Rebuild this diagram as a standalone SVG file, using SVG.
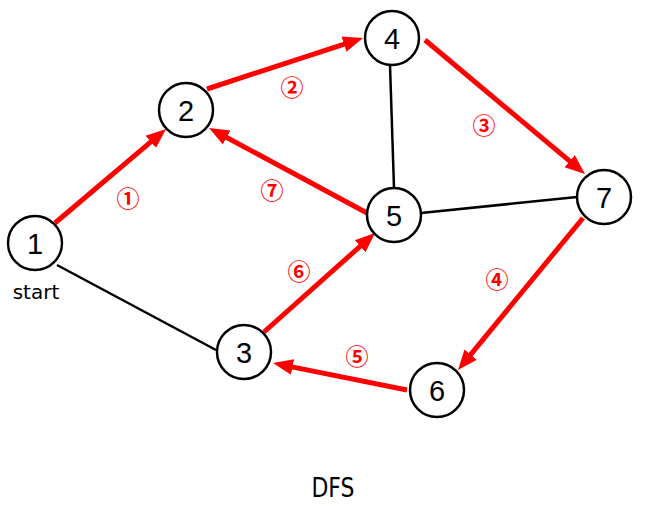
<svg xmlns="http://www.w3.org/2000/svg" width="650" height="509" viewBox="0 0 650 509">
<style>
.node circle{fill:#fff;stroke:#000;stroke-width:2.5}
.node text{font-family:"Liberation Sans",Arial,sans-serif;font-size:29px;text-anchor:middle;fill:#000}
.edge{stroke:#000;stroke-width:2.5;fill:none}
.path{stroke:#ff0000;stroke-width:5;fill:none;marker-end:url(#ah)}
.lbl{font-family:"Noto Sans CJK JP","DejaVu Sans",sans-serif;font-size:23px;font-weight:bold;fill:#ff0000;text-anchor:middle}
.cap{font-family:"DejaVu Sans",sans-serif;text-anchor:middle;fill:#000}
</style>
<defs>
<marker id="ah" markerUnits="userSpaceOnUse" markerWidth="20" markerHeight="18" refX="2" refY="9" orient="auto">
<path d="M0,1 L20,9 L0,17 z" fill="#ff0000"/>
</marker>
</defs>
<rect width="650" height="509" fill="#fff"/>
<g id="connectors">
<line class="edge" x1="57" y1="265" x2="216" y2="350"/>
<line class="edge" x1="390" y1="65" x2="394" y2="188"/>
<line class="edge" x1="421" y1="213" x2="577" y2="197"/>
<line class="path" x1="55" y1="223" x2="152.3" y2="140.6"/>
<line class="path" x1="207" y1="89" x2="345.9" y2="43.6"/>
<line class="path" x1="425" y1="40" x2="571.2" y2="162.4"/>
<line class="path" x1="583" y1="218" x2="469.4" y2="356.1"/>
<line class="path" x1="407" y1="390" x2="290.6" y2="366.6"/>
<line class="path" x1="264" y1="332" x2="361.6" y2="245"/>
<line class="path" x1="367" y1="213" x2="224.9" y2="136.5"/>
<text class="lbl" x="128" y="207">①</text>
<text class="lbl" x="292" y="96">②</text>
<text class="lbl" x="484" y="134">③</text>
<text class="lbl" x="497" y="288">④</text>
<text class="lbl" x="357" y="365">⑤</text>
<text class="lbl" x="299" y="280">⑥</text>
<text class="lbl" x="272" y="199">⑦</text>
</g>
<g id="node1" class="node"><circle cx="35" cy="243" r="27"/><text x="35" y="253.5">1</text></g>
<g id="node2" class="node"><circle cx="186" cy="110" r="27"/><text x="186" y="120.5">2</text></g>
<g id="node4" class="node"><circle cx="392" cy="38" r="27"/><text x="392" y="48.5">4</text></g>
<g id="node5" class="node"><circle cx="394" cy="215" r="27"/><text x="394" y="225.5">5</text></g>
<g id="node7" class="node"><circle cx="604" cy="197" r="27"/><text x="604" y="207.5">7</text></g>
<g id="node3" class="node"><circle cx="244" cy="352" r="27"/><text x="244" y="362.5">3</text></g>
<g id="node6" class="node"><circle cx="437" cy="390" r="27"/><text x="437" y="400.5">6</text></g>
<text class="cap" x="36" y="299" font-size="20">start</text>
<text class="cap" x="333" y="497" font-size="26" textLength="43" lengthAdjust="spacingAndGlyphs">DFS</text>
</svg>
